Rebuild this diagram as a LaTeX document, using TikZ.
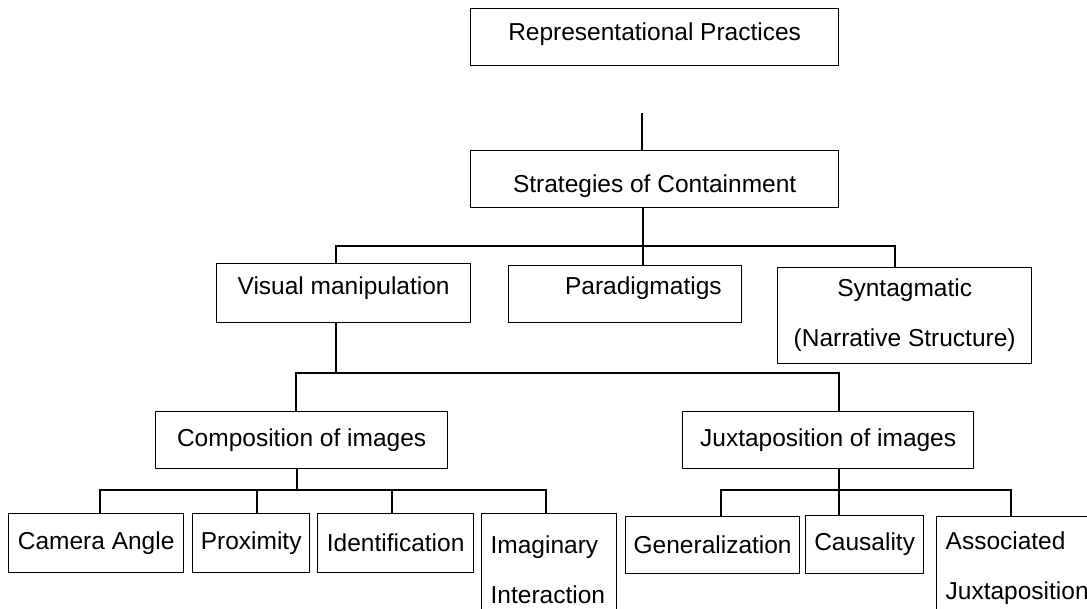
\documentclass[tikz,border=0pt]{standalone}
\usepackage{fontspec}
\setmainfont{Liberation Sans}

\begin{document}
\begin{tikzpicture}[x=1pt,y=-1pt,
  box/.style={draw,line width=1.3pt,anchor=north west,inner sep=0pt,align=center,
    font=\fontsize{24.5}{50}\selectfont},
  link/.style={line width=1.7pt}]
\clip (0,0) rectangle (1087,608);
\fill[white] (0,0) rectangle (1087,608);
\node[box,minimum width=368,minimum height=57,text height=12.8,text depth=6] (rep) at (470,8) {Representational Practices};
\node[box,minimum width=368,minimum height=57,text height=31,text depth=4] (strat) at (470,150) {Strategies of Containment};
\node[box,minimum width=254,minimum height=59,text height=10,text depth=7.2] (vis) at (216,263) {Visual manipulation};
\node[box,text width=193,inner xsep=20,align=right,minimum height=57,text height=8,text depth=7.2] (para) at (508,265) {Paradigmatigs};
\node[box,minimum width=254,minimum height=96] (synt) at (777,267) {Syntagmatic\\(Narrative Structure)};
\node[box,minimum width=292,minimum height=57] (comp) at (155,411) {Composition of images};
\node[box,minimum width=291,minimum height=57] (juxt) at (682,411) {Juxtaposition of images};
\node[box,minimum width=175,minimum height=59] (cam) at (8,513) {Camera Angle};
\node[box,minimum width=117,minimum height=59] (prox) at (192,513) {Proximity};
\node[box,minimum width=156,minimum height=59] (ident) at (317,513) {Identification};
\node[box,text width=117,inner xsep=9,align=left,minimum height=112] (imag) at (481,513) {Imaginary\\Interaction};
\node[box,minimum width=174,minimum height=57] (gen) at (625,516) {Generalization};
\node[box,minimum width=118,minimum height=58] (caus) at (805,515) {Causality};
\node[box,text width=152,inner xsep=9,align=left,minimum height=103] (assoc) at (936,516) {Associated\\Juxtaposition};
\coordinate (stub) at (642,113);
\draw[link] (stub) -- (stub |- strat.north);
\draw[link] ([xshift=-12]strat.south) -- ([xshift=-12]strat.south |- para.north);
\draw[link] ([xshift=-8]vis.north) -- ++(0,-17) -| ([xshift=-10]synt.north);
\draw[link] ([xshift=-8]vis.south) -- ++(0,51);
\draw[link] ([xshift=-6]comp.north) -- ++(0,-38) -| ([xshift=11]juxt.north);
\draw[link] ([xshift=-5]comp.south) -- ++(0,22);
\draw[link] ([xshift=4]cam.north) -- ++(0,-23) -| ([xshift=-3]imag.north);
\draw[link] ([xshift=6]prox.north) -- ++(0,-23);
\draw[link] ([xshift=-4]ident.north) -- ++(0,-23);
\draw[link] ([xshift=11]juxt.south) -- ([xshift=11]juxt.south |- caus.north);
\draw[link] ([xshift=8]gen.north) -- ++(0,-26) -| ([xshift=-11]assoc.north);
\end{tikzpicture}
\end{document}
